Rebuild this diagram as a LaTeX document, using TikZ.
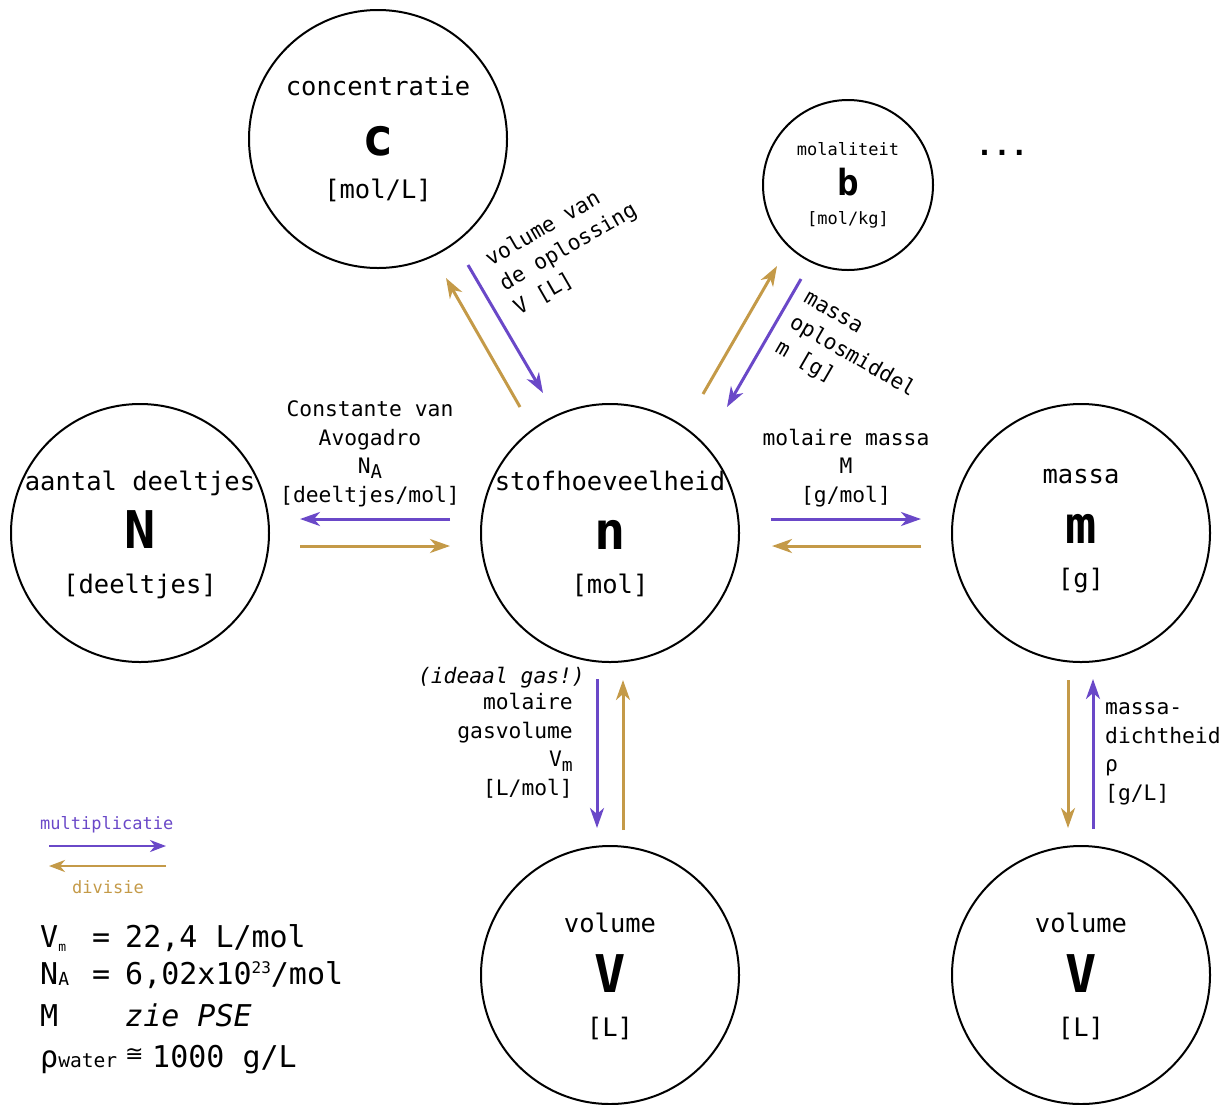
\documentclass[tikz,border=0pt]{standalone}
\usepackage{fontspec}
\setmainfont{DejaVu Sans Mono}[ItalicFont={DejaVu Sans Mono Oblique},BoldFont={DejaVu Sans Mono Bold},BoldItalicFont={DejaVu Sans Mono Bold Oblique}]
\newfontfamily\symfont{DejaVu Sans}
\usetikzlibrary{arrows.meta,calc}
\definecolor{mulc}{HTML}{6A48C8}
\definecolor{divc}{HTML}{C49A48}
\tikzset{
  qty/.style={circle, draw, line width=2pt, minimum size=258pt, inner sep=0pt, outer sep=0pt},
  lbl/.style={font=\fontsize{25.5}{29}\selectfont, anchor=base, inner sep=0pt},
  smalllbl/.style={font=\fontsize{17}{20}\selectfont, anchor=base, inner sep=0pt},
  big/.style={font=\fontsize{52}{60}\selectfont\bfseries, anchor=base, inner sep=0pt},
  bigsmall/.style={font=\fontsize{36}{40}\selectfont\bfseries, anchor=base, inner sep=0pt},
  conv/.style={font=\fontsize{21.3}{28.5}\selectfont, inner sep=0pt},
  cst/.style={font=\fontsize{30}{40}\selectfont, inner sep=0pt, anchor=base west},
  conn/.style={line width=3pt, -{Stealth[length=20pt,width=14pt,inset=6pt]}},
  mul/.style={conn, draw=mulc, color=mulc},
  dvs/.style={conn, draw=divc, color=divc},
}
\begin{document}
\begin{tikzpicture}[x=1pt,y=-1pt]
\useasboundingbox (0,0) rectangle (1231,1104);
% circles
\node[qty] (c) at (378,139) {};
\node[qty, minimum size=170pt] (b) at (848,185) {};
\node[qty] (N) at (140,533) {};
\node[qty] (n) at (610,533) {};
\node[qty] (m) at (1081,533) {};
\node[qty] (V1) at (610,975) {};
\node[qty] (V2) at (1081,975) {};
% circle texts
\node[lbl] (cL) at (378,95) {concentratie};
\node[big] (cS) at (378,155) {c};
\node[lbl] (cU) at (378,198) {[mol/L]};
\node[smalllbl] (bL) at (848,155) {molaliteit};
\node[bigsmall] (bS) at (848,195) {b};
\node[smalllbl] (bU) at (848,224) {[mol/kg]};
\node[lbl] (NL) at (140,490) {aantal deeltjes};
\node[big] (NS) at (140,548) {N};
\node[lbl] (NU) at (140,593) {[deeltjes]};
\node[lbl] (nL) at (610,490) {stofhoeveelheid};
\node[big] (nS) at (610,549) {n};
\node[lbl] (nU) at (610,593) {[mol]};
\node[lbl] (mL) at (1081,483) {massa};
\node[big] (mS) at (1081,543) {m};
\node[lbl] (mU) at (1081,587) {[g]};
\node[lbl] (V1L) at (610,932) {volume};
\node[big] (V1S) at (610,992) {V};
\node[lbl] (V1U) at (610,1036) {[L]};
\node[lbl] (V2L) at (1081,932) {volume};
\node[big] (V2S) at (1081,992) {V};
\node[lbl] (V2U) at (1081,1036) {[L]};
\node[font=\fontsize{29}{29}\selectfont\bfseries, anchor=base, inner sep=0pt] (dots) at (1002,155) {...};
% arrows
\draw[mul] ([shift={(-160,-14)}]n.center) -- ([shift={(160,-14)}]N.center);
\draw[dvs] ([shift={(160,13)}]N.center) -- ([shift={(-160,13)}]n.center);
\draw[mul] ([shift={(161,-14)}]n.center) -- ([shift={(-160,-14)}]m.center);
\draw[dvs] ([shift={(-160,13)}]m.center) -- ([shift={(162,13)}]n.center);
\draw[dvs] ([shift={(-90,-126)}]n.center) -- ([shift={(68,139)}]c.center);
\draw[mul] ([shift={(90,126)}]c.center) -- ([shift={(-67,-140)}]n.center);
\draw[dvs] ([shift={(93,-139)}]n.center) -- ([shift={(-71,81)}]b.center);
\draw[mul] ([shift={(-47,94)}]b.center) -- ([shift={(117,-126)}]n.center);
\draw[mul] ([shift={(-13,146)}]n.center) -- ([shift={(-13,-147)}]V1.center);
\draw[dvs] ([shift={(13,-145)}]V1.center) -- ([shift={(13,147)}]n.center);
\draw[dvs] ([shift={(-13,147)}]m.center) -- ([shift={(-13,-147)}]V2.center);
\draw[mul] ([shift={(12,-146)}]V2.center) -- ([shift={(12,146)}]m.center);
% conversion labels (anchor base = baseline of last line)
\node[conv, align=center, anchor=base] (lA) at (370,502) {Constante van\\Avogadro\\N\raisebox{-5pt}{\fontsize{19}{19}\selectfont A}\\{[}deeltjes/mol]};
\node[conv, align=center, anchor=base] (lM) at (846,502) {molaire massa\\M\\{[}g/mol]};
\node[conv, rotate=30, align=left, anchor=base west] (lc) at (519,316) {volume van\\de oplossing\\V [L]};
\node[conv, rotate=-30, align=left, anchor=base west] (lb) at (774,351) {massa\\oplosmiddel\\m [g]};
\node[conv, anchor=base east] (lg) at (585,683) {\itshape (ideaal gas!)};
\node[conv, align=right, anchor=base east] (lV) at (573,795) {molaire\\gasvolume\\V\raisebox{-5pt}{\fontsize{18}{18}\selectfont m}\\{[}L/mol]};
\node[conv, align=left, anchor=base west] (lr) at (1105,800) {massa-\\dichtheid\\ρ\\{[}g/L]};
% legend
\node[font=\fontsize{17}{17}\selectfont, text=mulc, anchor=base west, inner sep=0pt] (legm) at (40,829) {multiplicatie};
\coordinate (legA) at (49,846);
\coordinate (legB) at (166,846);
\coordinate (legC) at (166,866);
\coordinate (legD) at (49,866);
\draw[mul, line width=2.5pt, -{Stealth[length=16pt,width=12pt,inset=5pt]}] (legA) -- (legB);
\draw[dvs, line width=2.5pt, -{Stealth[length=16pt,width=12pt,inset=5pt]}] (legC) -- (legD);
\node[font=\fontsize{17}{17}\selectfont, text=divc, anchor=base west, inner sep=0pt] (legd) at (72,893) {divisie};
% constants
\node[cst] (k1a) at (40,947) {V\raisebox{-4pt}{\fontsize{13}{13}\selectfont m}};
\node[cst] (k1b) at (92,947) {=};
\node[cst] (k1c) at (125,947) {22,4 L/mol};
\node[cst] (k2a) at (40,984) {N\raisebox{-1pt}{\fontsize{18}{18}\selectfont A}};
\node[cst] (k2b) at (92,984) {=};
\node[cst] (k2c) at (125,984) {6,02x10\raisebox{11pt}{\fontsize{16}{16}\selectfont 23}/mol};
\node[cst] (k3a) at (40,1026) {M};
\node[cst] (k3c) at (125,1026) {\itshape zie PSE};
\node[cst] (k4a) at (40,1067) {ρ\fontsize{19.6}{20}\selectfont water};
\node[font=\fontsize{22}{22}\symfont, inner sep=0pt, anchor=base west] (k4b) at (125,1061) {≅};
\node[cst] (k4c) at (152,1067) {1000 g/L};
\end{tikzpicture}
\end{document}
